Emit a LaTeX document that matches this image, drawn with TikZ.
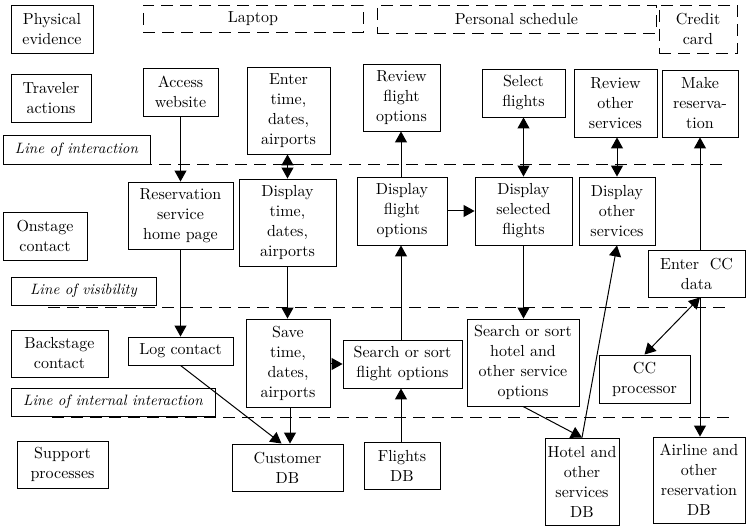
\documentclass[tikz,border=0pt]{standalone}
\usepackage{fontspec}
\setmainfont{lmroman10-regular.otf}[ItalicFont=lmroman10-italic.otf]
\usetikzlibrary{arrows.meta}
\begin{document}
\begin{tikzpicture}[x=1pt,y=-1pt,
  font=\fontsize{16}{20}\selectfont,
  box/.style={draw, line width=0.9pt, inner sep=0pt, align=center},
  dbox/.style={box, dash pattern=on 12pt off 7pt},
  lbl/.style={box, font=\fontsize{15}{20}\selectfont\itshape},
  divider/.style={line width=0.9pt, dash pattern=on 12pt off 7pt},
  conn/.style={line width=1pt, -{Triangle[length=11pt,width=12pt]}},
  conn2/.style={line width=1pt, {Triangle[length=11pt,width=12pt]}-{Triangle[length=11pt,width=12pt]}}]
\useasboundingbox (0,0) rectangle (747,526);

% dividing lines between the swim lanes
\draw[divider] (45,164) -- (728,164);
\draw[divider] (48,307) -- (728,307);
\draw[divider] (52,417) -- (732,417);

% lane titles
\node[box, minimum width=82pt, minimum height=48pt] (phys) at (52,29) {Physical\\evidence};
\node[box, minimum width=80pt, minimum height=48pt] (trav) at (51,98) {Traveler\\actions};
\node[box, minimum width=84pt, minimum height=48pt] (onst) at (45,236) {Onstage\\contact};
\node[box, minimum width=97pt, minimum height=47pt] (back) at (59.5,353.5) {Backstage\\contact};
\node[box, minimum width=91pt, minimum height=47pt] (supp) at (62.5,464.5) {Support\\processes};
\node[lbl, minimum width=147pt, minimum height=29pt] (linter) at (76.5,149.5) {Line of interaction};
\node[lbl, minimum width=145pt, minimum height=28pt] (lvis) at (83.5,291) {Line of visibility};
\node[lbl, minimum width=204pt, minimum height=28pt] (lint) at (113,402) {Line of internal interaction};

% physical evidence
\node[dbox, minimum width=220pt, minimum height=27pt] (laptop) at (253,18.5) {Laptop};
\node[dbox, minimum width=279pt, minimum height=28pt] (sched) at (516.5,19) {Personal schedule};
\node[dbox, minimum width=78pt, minimum height=48pt] (card) at (698,29) {Credit\\card};

% traveler actions
\node[box, minimum width=75pt, minimum height=48pt] (access) at (180.5,92) {Access\\website};
\node[box, minimum width=83pt, minimum height=87pt] (enter) at (288.5,110.5) {Enter\\time,\\dates,\\airports};
\node[box, minimum width=77pt, minimum height=67pt] (revfl) at (401.5,97.5) {Review\\flight\\options};
\node[box, minimum width=83pt, minimum height=48pt] (select) at (523.5,93) {Select\\flights};
\node[box, minimum width=83pt, minimum height=68pt] (revoth) at (615.5,103) {Review\\other\\services};
\node[box, minimum width=76pt, minimum height=67pt] (make) at (700,103.5) {Make\\reserva-\\tion};

% onstage contact
\node[box, minimum width=105pt, minimum height=67pt] (home) at (180.5,215.5) {Reservation\\service\\home page};
\node[box, minimum width=97pt, minimum height=87pt] (disptime) at (287.5,222.5) {Display\\time,\\dates,\\airports};
\node[box, minimum width=90pt, minimum height=68pt] (dispfl) at (402,211) {Display\\flight\\options};
\node[box, minimum width=97pt, minimum height=68pt] (dispsel) at (523.5,211) {Display\\selected\\flights};
\node[box, minimum width=76pt, minimum height=68pt] (dispoth) at (617,211) {Display\\other\\services};
\node[box, minimum width=97pt, minimum height=47pt] (entercc) at (696.5,273.5) {Enter\ \ CC\\data};

% backstage contact
\node[box, minimum width=105pt, minimum height=28pt] (log) at (180.5,351) {Log contact};
\node[box, minimum width=84pt, minimum height=88pt] (save) at (288,363) {Save\\time,\\dates,\\airports};
\node[box, minimum width=119pt, minimum height=48pt] (srchfl) at (402.5,364) {Search or sort\\flight options};
\node[box, minimum width=112pt, minimum height=87pt] (srchho) at (523,362.5) {Search or sort\\hotel and\\other service\\options};
\node[box, minimum width=91pt, minimum height=48pt] (ccproc) at (644.5,379) {CC\\processor};

% support processes
\node[box, minimum width=111pt, minimum height=47pt] (custdb) at (287.5,467.5) {Customer\\DB};
\node[box, minimum width=76pt, minimum height=47pt] (fldb) at (402,465.5) {Flights\\DB};
\node[box, minimum width=74pt, minimum height=87pt] (hodb) at (582,481.5) {Hotel and\\other\\services\\DB};
\node[box, minimum width=92pt, minimum height=86pt] (airdb) at (699,480) {Airline and\\other\\reservation\\DB};

% anchor points on shared verticals
\coordinate (xcc) at (700,0);
\coordinate (xsave) at (290,0);

% connectors
\draw[conn] (access.south) -- (home.north);
\draw[conn2] (enter.south -| disptime.north) -- (disptime.north);
\draw[conn] (home.south) -- (log.north);
\draw[conn] (disptime.south) -- (disptime.south |- save.north);
\draw[conn] (save.east |- srchfl.west) -- (srchfl.west);
\draw[conn] (log.south) -- ([xshift=-6pt]custdb.north);
\draw[conn] (xsave |- save.south) -- (xsave |- custdb.north);
\draw[conn] ([xshift=-1pt]fldb.north) -- ([xshift=-1pt]srchfl.south -| fldb.north);
\draw[conn] ([xshift=-1pt]srchfl.north -| dispfl.south) -- ([xshift=-1pt]dispfl.south);
\draw[conn] ([xshift=-1pt]dispfl.north) -- ([xshift=-1pt]dispfl.north |- revfl.south);
\draw[conn] (dispfl.east) -- (dispfl.east -| dispsel.west);
\draw[conn2] (select.south) -- (select.south |- dispsel.north);
\draw[conn] (dispsel.south) -- (dispsel.south |- srchho.north);
\draw[conn2] (revoth.south -| dispoth.north) -- (dispoth.north);
\draw[conn] (srchho.south) -- (hodb.north);
\draw[conn] (hodb.north) -- (dispoth.south);
\draw[conn] (xcc |- entercc.north) -- (xcc |- make.south);
\draw[conn] (xcc |- entercc.south) -- (xcc |- airdb.north);
\draw[conn2] (xcc |- entercc.south) -- (ccproc.north);
\end{tikzpicture}
\end{document}
